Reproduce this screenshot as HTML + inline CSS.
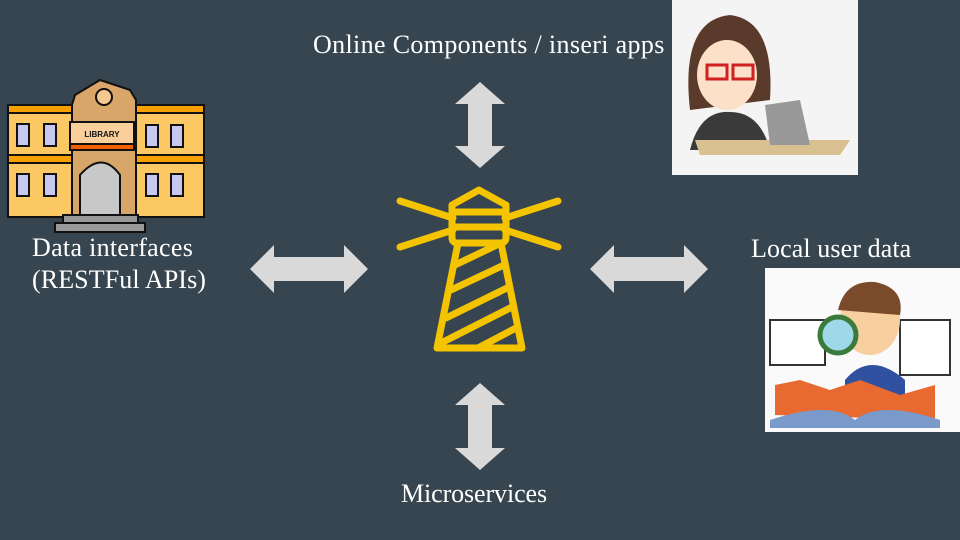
<!DOCTYPE html>
<html><head><meta charset="utf-8"><style>
html,body{margin:0;padding:0}
body{width:960px;height:540px;background:#36454f;position:relative;overflow:hidden;font-family:"Liberation Serif",serif;color:#fff}
.t{position:absolute;font-size:26px;line-height:30px;white-space:nowrap;letter-spacing:0.1px}
</style></head><body>
<div class="t" style="left:313px;top:30px;letter-spacing:0.35px">Online Components / inseri apps</div>
<div class="t" style="left:32px;top:233px;letter-spacing:0.3px">Data interfaces</div>
<div class="t" style="left:32px;top:265px">(RESTFul APIs)</div>
<div class="t" style="left:751px;top:234px">Local user data</div>
<div class="t" style="left:401px;top:479px;letter-spacing:-0.1px">Microservices</div>
<svg width="960" height="540" style="position:absolute;left:0;top:0">
<g fill="#d9d9d9">
<polygon points="480,82 505,104 492,104 492,146 505,146 480,168 455,146 468,146 468,104 455,104"/>
<polygon points="480,383 505,405 492,405 492,448 505,448 480,470 455,448 468,448 468,405 455,405"/>
<polygon points="250,269 274,245 274,257 344,257 344,245 368,269 344,293 344,281 274,281 274,293"/>
<polygon points="590,269 614,245 614,257 684,257 684,245 708,269 684,293 684,281 614,281 614,293"/>
</g>
<g fill="none" stroke="#f5c400" stroke-width="7" stroke-linecap="round" stroke-linejoin="round">
<line x1="400" y1="201" x2="453" y2="218"/><line x1="400" y1="247" x2="453" y2="230"/>
<line x1="558" y1="201" x2="505" y2="218"/><line x1="558" y1="247" x2="505" y2="230"/>
<path d="M452,212 L452,205 L479,190 L506,205 L506,212"/>
<rect x="452" y="212" width="54" height="31" rx="5"/>
<line x1="452" y1="227" x2="506" y2="227"/>
<polygon points="458,243 501,243 522,348 437,348"/>
<line x1="455" y1="265" x2="501" y2="243"/>
<line x1="451" y1="290" x2="504" y2="265"/>
<line x1="446" y1="318" x2="507" y2="288"/>
<line x1="441" y1="343" x2="512" y2="307"/>
<line x1="478" y1="348" x2="516" y2="328"/>
</g>
<g stroke="#111" stroke-width="2">
<rect x="8" y="105" width="196" height="112" fill="#fbc864"/>
<rect x="8" y="105" width="196" height="8" fill="#f7a000"/>
<rect x="8" y="155" width="196" height="8" fill="#f7a000"/>
<polygon points="72,105 72,215 136,215 136,100 130,90 100,80 75,95" fill="#d9a66a"/>
<rect x="70" y="122" width="64" height="22" fill="#fbcf9c"/>
<rect x="70" y="144" width="64" height="6" fill="#f06000"/>
<circle cx="104" cy="97" r="8" fill="#f5c890"/>
<path d="M80,215 L80,175 Q102,150 120,175 L120,215Z" fill="#c8c8c8"/>
<rect x="63" y="215" width="75" height="8" fill="#999"/>
<rect x="55" y="223" width="90" height="9" fill="#999"/>
<g fill="#c8c8f0"><rect x="17" y="124" width="12" height="22"/><rect x="44" y="124" width="12" height="22"/><rect x="146" y="125" width="12" height="22"/><rect x="171" y="125" width="12" height="22"/><rect x="17" y="174" width="12" height="22"/><rect x="44" y="174" width="12" height="22"/><rect x="146" y="174" width="12" height="22"/><rect x="171" y="174" width="12" height="22"/></g>
</g>
<text x="102" y="137" font-family="Liberation Sans" font-size="8" font-weight="bold" text-anchor="middle" fill="#111">LIBRARY</text>
<rect x="672" y="0" width="186" height="175" fill="#f4f4f4"/>
<path d="M690,110 Q680,20 730,15 Q775,20 770,100 Z" fill="#5a3a2a"/>
<ellipse cx="727" cy="75" rx="30" ry="35" fill="#fde0c8"/>
<rect x="707" y="65" width="20" height="14" fill="none" stroke="#d02020" stroke-width="3"/>
<rect x="733" y="65" width="20" height="14" fill="none" stroke="#d02020" stroke-width="3"/>
<path d="M690,150 Q700,110 730,112 Q760,112 770,150Z" fill="#3a3a3a"/>
<polygon points="695,140 850,140 840,155 700,155" fill="#d8c090"/>
<polygon points="765,105 800,100 810,145 770,145" fill="#999"/>
<rect x="765" y="268" width="195" height="164" fill="#fafafa"/>
<rect x="770" y="320" width="55" height="45" fill="#fff" stroke="#333" stroke-width="2"/>
<rect x="900" y="320" width="50" height="55" fill="#fff" stroke="#333" stroke-width="2"/>
<ellipse cx="870" cy="320" rx="30" ry="35" fill="#f8d0a0"/>
<path d="M838,310 Q845,280 875,282 Q905,288 900,315Z" fill="#7a4a2a"/>
<circle cx="838" cy="335" r="18" fill="#9fd8e8" stroke="#3a7a3a" stroke-width="5"/>
<path d="M845,380 Q870,350 905,380 L905,410 L845,410Z" fill="#3050a0"/>
<path d="M775,415 L775,385 L800,380 L830,390 L860,380 L900,395 L935,385 L935,420 Z" fill="#e86a30"/>
<path d="M770,420 Q830,400 855,420 Q880,400 940,420 L940,428 L770,428Z" fill="#7a9acc"/>
</svg>
</body></html>
